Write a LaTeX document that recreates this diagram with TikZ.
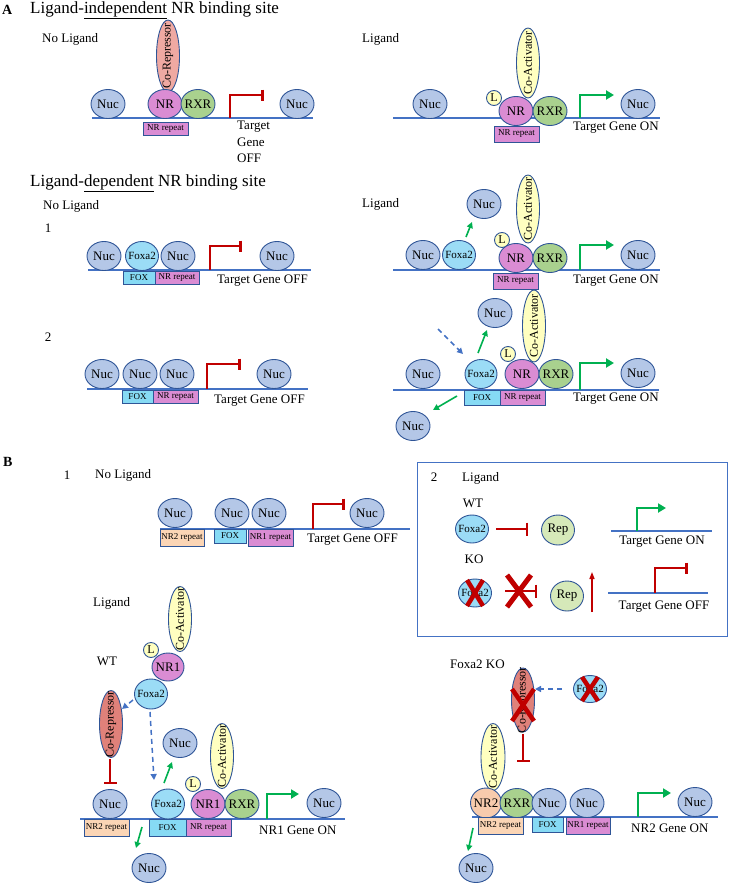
\documentclass[tikz,border=0pt]{standalone}
\usepackage{fontspec}
\setmainfont{Liberation Serif}
\usetikzlibrary{shapes.geometric,arrows.meta,calc}
\definecolor{nucfill}{HTML}{B4C7E7}
\definecolor{cellline}{HTML}{2F5597}
\definecolor{dnablue}{HTML}{4472C4}
\definecolor{foxfill}{HTML}{9BDCF6}
\definecolor{foxbox}{HTML}{86DAF4}
\definecolor{nrfill}{HTML}{DA8CD3}
\definecolor{rxrfill}{HTML}{A9D18E}
\definecolor{coafill}{HTML}{FFFFC0}
\definecolor{corfillA}{HTML}{EFA9A2}
\definecolor{corfillB}{HTML}{E0817A}
\definecolor{nrtwofill}{HTML}{F8CBAD}
\definecolor{nrtwobox}{HTML}{FBD5B5}
\definecolor{repfill}{HTML}{D6E9B9}
\definecolor{offred}{HTML}{C00000}
\definecolor{ongreen}{HTML}{00B050}
\tikzstyle{cell} = [ellipse, draw=cellline, line width=0.9pt, minimum width=34pt, minimum height=29pt, inner sep=-3pt, font=\fontsize{13}{15}\selectfont]
\tikzstyle{nuc} = [cell, fill=nucfill]
\tikzstyle{foxa} = [cell, fill=foxfill, minimum width=33pt, font=\fontsize{11}{13}\selectfont]
\tikzstyle{nr} = [cell, fill=nrfill]
\tikzstyle{rxr} = [cell, fill=rxrfill]
\tikzstyle{nrtwo} = [cell, fill=nrtwofill, minimum width=31pt]
\tikzstyle{rep} = [cell, fill=repfill, minimum width=33pt, minimum height=30pt]
\tikzstyle{lig} = [cell, fill=coafill, minimum width=15pt, minimum height=15pt, inner sep=0pt, font=\fontsize{12}{12}\selectfont]
\tikzstyle{coact} = [cell, fill=coafill, rotate=90, minimum width=68pt, minimum height=23pt, inner xsep=-15pt, font=\fontsize{12}{14}\selectfont]
\tikzstyle{corepA} = [coact, fill=corfillA]
\tikzstyle{corepB} = [coact, fill=corfillB]
\tikzstyle{site} = [rectangle, draw=cellline, line width=0.8pt, minimum width=45pt, minimum height=15pt, inner sep=0pt, font=\fontsize{9}{10}\selectfont]
\tikzstyle{nrsite} = [site, fill=nrfill]
\tikzstyle{foxsite} = [site, fill=foxbox, minimum width=32pt]
\tikzstyle{nrtwosite} = [site, fill=nrtwobox]
\tikzstyle{frame} = [rectangle, draw=dnablue, line width=1pt, minimum width=310pt, minimum height=174pt]
\tikzstyle{lbl} = [inner sep=0pt, font=\fontsize{13}{16.5}\selectfont]
\tikzstyle{dna} = [draw=dnablue, line width=1.8pt]
\tikzstyle{geneoff} = [draw=offred, line width=2.6pt, -{Bar[width=11pt]}]
\tikzstyle{geneon} = [draw=ongreen, line width=2.6pt, -{Triangle[length=8pt,width=9pt]}]
\tikzstyle{evict} = [draw=ongreen, line width=1.6pt, -{Triangle[length=6pt,width=6pt]}]
\tikzstyle{recruit} = [draw=dnablue, line width=1.5pt, dash pattern=on 5pt off 4pt, -{Triangle[length=6pt,width=6pt]}]
\tikzstyle{inhibit} = [draw=offred, line width=1.6pt, -{Bar[width=13pt]}]
\tikzstyle{uparrow} = [draw=offred, line width=1.4pt, -{Triangle[length=7pt,width=5pt]}]
\tikzstyle{xmark} = [draw=offred, line width=4.5pt]
\begin{document}
\begin{tikzpicture}[x=1pt, y=-1pt]
\useasboundingbox (0,0) rectangle (731,883);

\node(labA) [lbl, anchor=west, font=\bfseries\fontsize{14}{16}\selectfont] at (2,10) {A};
\node(titleA) [lbl, anchor=west, font=\fontsize{17}{19}\selectfont] at (30,10) {Ligand-\underline{independent} NR binding site};
\node(noligA1) [lbl, anchor=west] at (42,39) {No Ligand};
\node(ligA2) [lbl, anchor=west] at (362,39) {Ligand};

% A, independent, no ligand
\draw [dna] (92,118) -- (313,118);
\node(corA1) [corepA, minimum width=72pt] at (168,56) {Co-Repressor};
\node(nucA1a) [nuc] at (108,104) {Nuc};
\node(nrA1) [nr] at (165,104) {NR};
\node(rxrA1) [rxr] at (198,104) {RXR};
\node(siteA1) [nrsite, minimum height=13pt] at (165.5,128.5) {NR repeat};
\node(nucA1b) [nuc] at (297,104) {Nuc};
\coordinate (pA1) at (230,118);
\coordinate (pA1e) at (264,95);
\draw [geneoff] (pA1) |- (pA1e);
\node(offA1) [lbl, anchor=north west, align=left] at (237,121) {Target\\Gene\\OFF};

% A, independent, ligand
\draw [dna] (393,118) -- (660,118);
\node(coaA2) [coact, minimum width=70pt] at (528,63) {Co-Activator};
\node(nucA2a) [nuc] at (430,104) {Nuc};
\node(lA2) [lig] at (494,98) {L};
\node(nrA2) [nr] at (516,111) {NR};
\node(rxrA2) [rxr] at (550,111) {RXR};
\node(siteA2) [nrsite, minimum height=16pt] at (516.5,134) {NR repeat};
\node(nucA2b) [nuc] at (638,104) {Nuc};
\coordinate (pA2) at (580,118);
\coordinate (pA2e) at (614,95);
\draw [geneon] (pA2) |- (pA2e);
\node(onA2) [lbl, anchor=west] at (573,128) {Target Gene ON};

\node(titleA2) [lbl, anchor=west, font=\fontsize{17}{19}\selectfont] at (30,183) {Ligand-\underline{dependent} NR binding site};
\node(noligA3) [lbl, anchor=west] at (43,206) {No Ligand};
\node(oneA3) [lbl] at (48,228) {1};
\node(ligA4) [lbl, anchor=west] at (362,204) {Ligand};

% A, dependent 1, no ligand
\draw [dna] (88,270) -- (311,270);
\node(nucA3a) [nuc] at (104,256) {Nuc};
\node(foxA3) [foxa] at (142,256) {Foxa2};
\node(nucA3b) [nuc] at (178,256) {Nuc};
\node(foxsA3) [foxsite, minimum height=13pt] at (139,277.5) {FOX};
\node(siteA3) [nrsite, minimum width=44pt, minimum height=13pt] at (177,277.5) {NR repeat};
\node(nucA3c) [nuc] at (277,256) {Nuc};
\coordinate (pA3) at (210,270);
\coordinate (pA3e) at (242,246);
\draw [geneoff] (pA3) |- (pA3e);
\node(offA3) [lbl, anchor=west] at (217,281) {Target Gene OFF};

% A, dependent 1, ligand
\draw [dna] (393,270) -- (660,270);
\node(nucA4top) [nuc] at (484,204) {Nuc};
\coordinate (eA4) at (466,237);
\coordinate (eA4e) at (472,222);
\draw [evict] (eA4) -- (eA4e);
\node(coaA4) [coact] at (528,209) {Co-Activator};
\node(nucA4a) [nuc] at (423,255) {Nuc};
\node(foxA4) [foxa] at (459,255) {Foxa2};
\node(lA4) [lig] at (502,240) {L};
\node(nrA4) [nr] at (516,258) {NR};
\node(rxrA4) [rxr] at (550,258) {RXR};
\node(siteA4) [nrsite, minimum height=16pt] at (515.5,281) {NR repeat};
\node(nucA4b) [nuc] at (638,255) {Nuc};
\coordinate (pA4) at (580,270);
\coordinate (pA4e) at (614,245);
\draw [geneon] (pA4) |- (pA4e);
\node(onA4) [lbl, anchor=west] at (573,281) {Target Gene ON};

% A, dependent 2, no ligand
\node(twoA5) [lbl] at (48,337) {2};
\draw [dna] (87,389) -- (308,389);
\node(nucA5a) [nuc] at (102,374) {Nuc};
\node(nucA5b) [nuc] at (140,374) {Nuc};
\node(nucA5c) [nuc] at (177,374) {Nuc};
\node(foxsA5) [foxsite, minimum width=31pt, minimum height=13pt] at (137.5,396.5) {FOX};
\node(siteA5) [nrsite, minimum height=13pt] at (175.5,396.5) {NR repeat};
\node(nucA5d) [nuc] at (274,374) {Nuc};
\coordinate (pA5) at (207,389);
\coordinate (pA5e) at (241,364);
\draw [geneoff] (pA5) |- (pA5e);
\node(offA5) [lbl, anchor=west] at (214,401) {Target Gene OFF};

% A, dependent 2, ligand
\draw [dna] (393,390) -- (659,390);
\node(nucA6top) [nuc] at (495,313) {Nuc};
\node(coaA6) [coact, minimum width=72pt] at (534,326) {Co-Activator};
\coordinate (rA6) at (438,329);
\coordinate (rA6e) at (463,354);
\draw [recruit] (rA6) -- (rA6e);
\coordinate (eA6) at (478,353);
\coordinate (eA6e) at (487,330);
\draw [evict] (eA6) -- (eA6e);
\node(lA6) [lig] at (508,354) {L};
\node(nucA6a) [nuc] at (423,374) {Nuc};
\node(foxA6) [foxa, minimum width=32pt] at (481,374) {Foxa2};
\node(nrA6) [nr] at (522,374) {NR};
\node(rxrA6) [rxr] at (556,374) {RXR};
\node(foxsA6) [foxsite, minimum width=36pt] at (482,397.5) {FOX};
\node(siteA6) [nrsite] at (522.5,397.5) {NR repeat};
\node(nucA6b) [nuc] at (638,373) {Nuc};
\coordinate (pA6) at (580,390);
\coordinate (pA6e) at (614,363);
\draw [geneon] (pA6) |- (pA6e);
\node(onA6) [lbl, anchor=west] at (573,399) {Target Gene ON};
\coordinate (fA6) at (457,396);
\coordinate (fA6e) at (433,410);
\draw [evict] (fA6) -- (fA6e);
\node(nucA6low) [nuc] at (413,426) {Nuc};

% B1, no ligand
\node(labB) [lbl, anchor=west, font=\bfseries\fontsize{14}{16}\selectfont] at (3,462) {B};
\node(oneB1) [lbl] at (67,475) {1};
\node(noligB1) [lbl, anchor=west] at (95,475) {No Ligand};
\draw [dna] (160,529) -- (410,529);
\node(nucB1a) [nuc] at (175,513) {Nuc};
\node(nucB1b) [nuc] at (232,513) {Nuc};
\node(nucB1c) [nuc] at (269,513) {Nuc};
\node(nucB1d) [nuc] at (367,513) {Nuc};
\node(twosB1) [nrtwosite, minimum width=44pt, minimum height=17pt] at (182,537.5) {NR2 repeat};
\node(foxsB1) [foxsite, minimum height=14pt] at (230,536) {FOX};
\node(siteB1) [nrsite, minimum height=17pt] at (270.5,537.5) {NR1 repeat};
\coordinate (pB1) at (313,529);
\coordinate (pB1e) at (345,504);
\draw [geneoff] (pB1) |- (pB1e);
\node(offB1) [lbl, anchor=west] at (307,540) {Target Gene OFF};

% B2, box
\node(box2) [frame] at (572,549) {};
\node(twoB2) [lbl] at (434,477) {2};
\node(ligB2) [lbl, anchor=west] at (462,478) {Ligand};
\node(wtB2) [lbl] at (473,503) {WT};
\node(foxB2a) [foxa, minimum height=28pt] at (472,529) {Foxa2};
\coordinate (iB2) at (496,529);
\coordinate (iB2e) at (528,529);
\draw [inhibit] (iB2) -- (iB2e);
\node(repB2a) [rep] at (558,530) {Rep};
\draw [dna] (611,531) -- (712,531);
\coordinate (pB2) at (637,531);
\coordinate (pB2e) at (666,508);
\draw [geneon] (pB2) |- (pB2e);
\node(onB2) [lbl] at (662,542) {Target Gene ON};
\node(koB2) [lbl] at (474,559) {KO};
\node(foxB2b) [foxa, minimum height=28pt] at (475,593) {Foxa2};
\draw [xmark] ($(foxB2b)+(-8,-13)$) -- ($(foxB2b)+(8,13)$) ($(foxB2b)+(8,-13)$) -- ($(foxB2b)+(-8,13)$);
\coordinate (iB2k) at (505,591);
\coordinate (iB2ke) at (537,591);
\draw [inhibit] (iB2k) -- (iB2ke);
\draw [xmark, line width=5pt] (507,575) -- (531,607) (531,575) -- (507,607);
\node(repB2b) [rep] at (567,596) {Rep};
\coordinate (uB2) at (592,612);
\coordinate (uB2e) at (592,572);
\draw [uparrow] (uB2) -- (uB2e);
\draw [dna] (608,593) -- (708,593);
\coordinate (pB2k) at (655,593);
\coordinate (pB2ke) at (688,568);
\draw [geneoff] (pB2k) |- (pB2ke);
\node(offB2) [lbl] at (664,607) {Target Gene OFF};

% B1, ligand, WT
\node(ligB3) [lbl, anchor=west] at (93,603) {Ligand};
\node(coaB3) [coact, minimum width=65pt] at (180,619) {Co-Activator};
\node(lB3) [lig] at (151,650) {L};
\node(wtB3) [lbl] at (107,661) {WT};
\node(nrB3) [nr, minimum width=32pt, minimum height=28pt] at (168,667) {NR1};
\node(corB3) [corepB, minimum width=67pt] at (111,724) {Co-Repressor};
\node(foxB3) [foxa, minimum height=30pt] at (151,694) {Foxa2};
\coordinate (rB3) at (133,700);
\coordinate (rB3e) at (122,709);
\draw [recruit] (rB3) -- (rB3e);
\coordinate (rB3b) at (150,712);
\coordinate (rB3be) at (154,780);
\draw [recruit] (rB3b) -- (rB3be);
\coordinate (iB3) at (110,759);
\coordinate (iB3e) at (110,784);
\draw [inhibit] (iB3) -- (iB3e);
\node(nucB3top) [nuc] at (180,743) {Nuc};
\coordinate (eB3) at (164,783);
\coordinate (eB3e) at (172,762);
\draw [evict] (eB3) -- (eB3e);
\node(coaB4) [coact, minimum width=65pt] at (222,756) {Co-Activator};
\node(lB4) [lig] at (193,784) {L};
\draw [dna] (80,819) -- (345,819);
\node(nucB4a) [nuc] at (110,804) {Nuc};
\node(foxB4) [foxa, minimum height=30pt] at (168,804) {Foxa2};
\node(nrB4) [nr] at (208,804) {NR1};
\node(rxrB4) [rxr] at (242,804) {RXR};
\node(twosB4) [nrtwosite, minimum height=17pt] at (106.5,827.5) {NR2 repeat};
\node(foxsB4) [foxsite, minimum width=37pt, minimum height=17pt] at (167.5,827.5) {FOX};
\node(siteB4) [nrsite, minimum height=17pt] at (208.5,827.5) {NR repeat};
\coordinate (pB4) at (267,819);
\coordinate (pB4e) at (299,794);
\draw [geneon] (pB4) |- (pB4e);
\node(nucB4b) [nuc] at (324,803) {Nuc};
\node(onB4) [lbl, anchor=west] at (259,830) {NR1 Gene ON};
\coordinate (fB4) at (142,827);
\coordinate (fB4e) at (136,848);
\draw [evict] (fB4) -- (fB4e);
\node(nucB4low) [nuc] at (149,868) {Nuc};

% B1, ligand, Foxa2 KO
\node(koB5) [lbl, anchor=west] at (450,664) {Foxa2 KO};
\node(corB5) [corepB, minimum width=64pt] at (523,700) {Co-Repressor};
\draw [xmark] ($(corB5)+(-11,-11)$) -- ($(corB5)+(11,21)$) ($(corB5)+(11,-11)$) -- ($(corB5)+(-11,21)$);
\node(foxB5) [foxa, minimum height=27pt] at (590,689) {Foxa2};
\draw [xmark] ($(foxB5)+(-8,-12)$) -- ($(foxB5)+(8,12)$) ($(foxB5)+(8,-12)$) -- ($(foxB5)+(-8,12)$);
\coordinate (rB5) at (562,689);
\coordinate (rB5e) at (535,689);
\draw [recruit] (rB5) -- (rB5e);
\coordinate (iB5) at (523,734);
\coordinate (iB5e) at (523,762);
\draw [inhibit] (iB5) -- (iB5e);
\node(coaB6) [coact, minimum width=67pt, minimum height=24pt] at (493,757) {Co-Activator};
\draw [dna] (472,817) -- (718,817);
\node(nrB6) [nrtwo, minimum height=30pt] at (486,803) {NR2};
\node(rxrB6) [rxr] at (517,803) {RXR};
\node(nucB6a) [nuc] at (549,803) {Nuc};
\node(nucB6b) [nuc] at (587,803) {Nuc};
\node(twosB6) [nrtwosite, minimum height=17pt] at (500.5,825.5) {NR2 repeat};
\node(foxsB6) [foxsite, minimum width=31pt] at (547.5,824.5) {FOX};
\node(siteB6) [nrsite, minimum width=44pt, minimum height=17pt] at (588,825.5) {NR1 repeat};
\coordinate (pB6) at (638,817);
\coordinate (pB6e) at (671,793);
\draw [geneon] (pB6) |- (pB6e);
\node(nucB6c) [nuc] at (695,802) {Nuc};
\node(onB6) [lbl, anchor=west] at (631,828) {NR2 Gene ON};
\coordinate (fB6) at (473,828);
\coordinate (fB6e) at (468,851);
\draw [evict] (fB6) -- (fB6e);
\node(nucB6low) [nuc] at (476,868) {Nuc};

\end{tikzpicture}
\end{document}
